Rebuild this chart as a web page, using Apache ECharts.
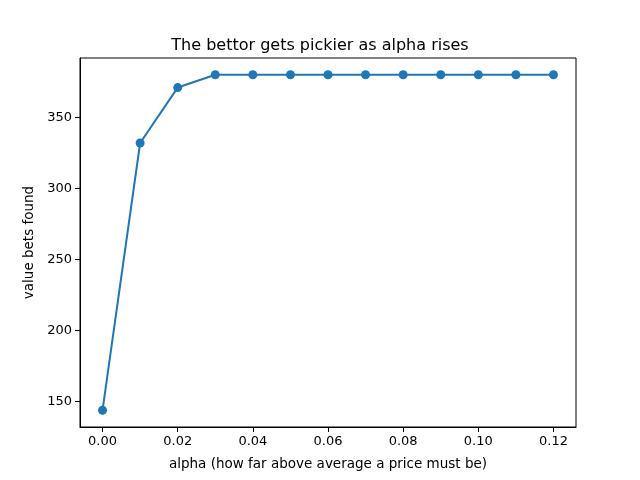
<!DOCTYPE html>
<html>
<head>
<meta charset="utf-8">
<script src="https://cdn.jsdelivr.net/npm/echarts@6/dist/echarts.min.js"></script>
<style>
  html, body { margin: 0; padding: 0; background: #fff; }
  #chart { width: 640px; height: 480px; }
</style>
</head>
<body>
<div id="chart"></div>
<script>
// alpha values and how many value bets were found at each
const alphas = [0.00, 0.01, 0.02, 0.03, 0.04, 0.05, 0.06, 0.07, 0.08, 0.09, 0.10, 0.11, 0.12];
const betsFound = [144, 332, 371, 380, 380, 380, 380, 380, 380, 380, 380, 380, 380];
const xTicks = [0, 0.02, 0.04, 0.06, 0.08, 0.10, 0.12];
const yTicks = [150, 200, 250, 300, 350];

const chart = echarts.init(document.getElementById('chart'), null, { renderer: 'canvas' });
const font = 'DejaVu Sans';

var option = {
  backgroundColor: '#ffffff',
  animation: false,
  title: {
    text: 'The bettor gets pickier as alpha rises',
    left: 'center',
    top: 33,
    textStyle: { fontFamily: font, fontSize: 16, fontWeight: 'normal', color: '#000' }
  },
  grid: {
    left: 80, right: 64, top: 58, bottom: 53,
    show: true, borderColor: '#000', borderWidth: 1, backgroundColor: 'transparent'
  },
  xAxis: {
    type: 'value',
    min: -0.006,
    max: 0.126,
    name: 'alpha (how far above average a price must be)',
    nameLocation: 'middle',
    nameGap: 30,
    nameTextStyle: { fontFamily: font, fontSize: 13.5, color: '#000' },
    axisLine: { show: true, onZero: false, lineStyle: { color: '#000', width: 1 } },
    axisTick: { show: true, length: 5, lineStyle: { color: '#000' }, customValues: xTicks },
    axisLabel: {
      fontFamily: font, fontSize: 13, color: '#000', margin: 8,
      customValues: xTicks,
      formatter: v => v.toFixed(2)
    },
    splitLine: { show: false }
  },
  yAxis: {
    type: 'value',
    min: 132.2,
    max: 391.8,
    name: 'value bets found',
    nameLocation: 'middle',
    nameGap: 43,
    nameTextStyle: { fontFamily: font, fontSize: 13.5, color: '#000' },
    axisLine: { show: true, onZero: false, lineStyle: { color: '#000', width: 1 } },
    axisTick: { show: true, length: 5, lineStyle: { color: '#000' }, customValues: yTicks },
    axisLabel: {
      fontFamily: font, fontSize: 13, color: '#000', margin: 8,
      customValues: yTicks
    },
    splitLine: { show: false }
  },
  series: [{
    type: 'line',
    data: alphas.map((a, i) => [a, betsFound[i]]),
    color: '#1f77b4',
    lineStyle: { width: 2, color: '#1f77b4' },
    symbol: 'circle',
    symbolSize: 9,
    itemStyle: { color: '#1f77b4' },
    showAllSymbol: true
  }]
};
chart.setOption(option);
</script>
</body>
</html>
